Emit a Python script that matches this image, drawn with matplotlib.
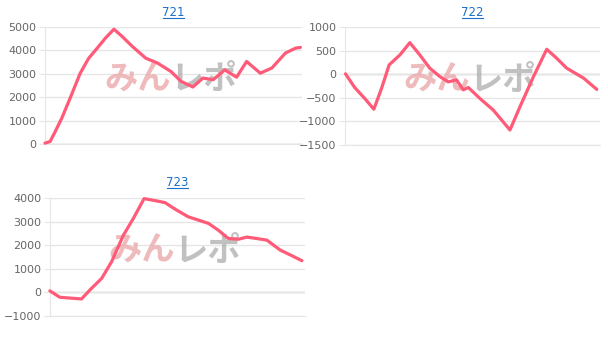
import matplotlib.pyplot as plt
from matplotlib.lines import Line2D
from matplotlib.transforms import offset_copy

# Slot data (x = relative game position, y = medals)
x_721 = [0, 2, 4, 6.5, 9.8, 13.7, 17, 20.3, 23.5, 26.8, 30, 34, 39.2, 43.8, 49, 52.9, 57.5, 61.4, 65.4, 69.9, 74.5, 78.4, 83.7, 88.2, 93.5, 97.4, 99.3]
y_721 = [40, 110, 540, 1100, 1970, 3030, 3670, 4100, 4530, 4910, 4600, 4170, 3670, 3460, 3100, 2680, 2440, 2820, 2750, 3170, 2860, 3530, 3030, 3250, 3890, 4100, 4130]

x_722 = [0.3, 3.9, 7.8, 11.4, 14.4, 17.4, 21.6, 25.5, 29.4, 33.3, 37.3, 40.5, 43.8, 46.4, 48.4, 52.9, 58.2, 64.7, 68.6, 73.9, 79.1, 83, 86.9, 93.5, 98.7]
y_722 = [10, -280, -510, -740, -300, 200, 410, 670, 410, 130, -50, -160, -120, -330, -280, -510, -760, -1180, -690, -50, 530, 340, 130, -80, -320]

x_723 = [0, 3.9, 8.5, 12.4, 15.7, 20.3, 24.2, 28.8, 32.7, 36.9, 40.5, 45.1, 49.7, 54.2, 62.1, 66, 69.9, 73.9, 77.1, 81, 85, 90.2, 94.8, 98.7]
y_723 = [60, -210, -250, -280, 100, 590, 1300, 2420, 3130, 3970, 3900, 3800, 3480, 3200, 2920, 2630, 2280, 2250, 2340, 2280, 2210, 1790, 1550, 1340]

titles = ['721', '722', '723']
y_ranges = [(0, 5000), (-1500, 1000), (-1000, 4000)]
y_ticks = [
    [0, 1000, 2000, 3000, 4000, 5000],
    [-1500, -1000, -500, 0, 500, 1000],
    [-1000, 0, 1000, 2000, 3000, 4000],
]

LINE_COLOR = '#ff5a78'
GRID_COLOR = '#e6e6e6'
TEXT_COLOR = '#666666'
LINK_COLOR = '#1a6fc8'

plt.rcParams['font.family'] = ['DejaVu Sans']

fig = plt.figure(figsize=(6.08, 3.43), dpi=100)

# axes rectangles in figure fractions
rects = [
    [0.074, 0.580, 0.423, 0.341],
    [0.567, 0.577, 0.420, 0.344],
    [0.082, 0.079, 0.420, 0.344],
]
series = [(x_721, y_721), (x_722, y_722), (x_723, y_723)]
PX = 0.72  # points per pixel at 100 dpi
WM_FONT = ['Noto Sans CJK JP', 'DejaVu Sans']

for rect, (xs, ys), title, yr, yt in zip(rects, series, titles, y_ranges, y_ticks):
    ax = fig.add_axes(rect)
    ax.plot(xs, ys, color=LINE_COLOR, linewidth=2.3, solid_capstyle='round',
            solid_joinstyle='round', clip_on=False, zorder=3)
    ax.set_xlim(0, 100)
    ax.set_ylim(*yr)
    ax.set_yticks(yt)
    ax.set_xticks([])
    ax.grid(axis='y', color=GRID_COLOR, linewidth=1)
    ax.axhline(0, color='#c4c4c4', linewidth=1, zorder=1)
    for side in ['top', 'right']:
        ax.spines[side].set_visible(False)
    ax.spines['left'].set_color(GRID_COLOR)
    ax.spines['bottom'].set_color(GRID_COLOR)
    ax.tick_params(axis='y', colors=GRID_COLOR, labelcolor=TEXT_COLOR,
                   labelsize=8, length=4, pad=2)

    # underlined link-style title
    t_trans = offset_copy(ax.transAxes, fig=fig, x=0, y=15 * PX, units='points')
    ax.text(0.5, 1.0, title, transform=t_trans, ha='center', va='center',
            color=LINK_COLOR, fontsize=8.5)
    u_left = offset_copy(ax.transAxes, fig=fig, x=-10.5 * PX, y=9.5 * PX, units='points')
    u_right = offset_copy(ax.transAxes, fig=fig, x=10.5 * PX, y=9.5 * PX, units='points')
    p0 = u_left.transform((0.5, 1.0))
    p1 = u_right.transform((0.5, 1.0))
    fig.add_artist(Line2D([p0[0], p1[0]], [p0[1], p1[1]], transform=None,
                          color=LINK_COLOR, linewidth=0.8))

    # watermark
    ax.text(0.49, 0.55, 'みん', transform=ax.transAxes, ha='right', va='center',
            fontsize=24, fontweight='bold', color='#e9a3a6', alpha=0.75,
            family=WM_FONT, zorder=2)
    ax.text(0.49, 0.55, 'レポ', transform=ax.transAxes, ha='left', va='center',
            fontsize=24, fontweight='bold', color='#acacac', alpha=0.75,
            family=WM_FONT, zorder=2)

fig.savefig('out.png', dpi=100)
